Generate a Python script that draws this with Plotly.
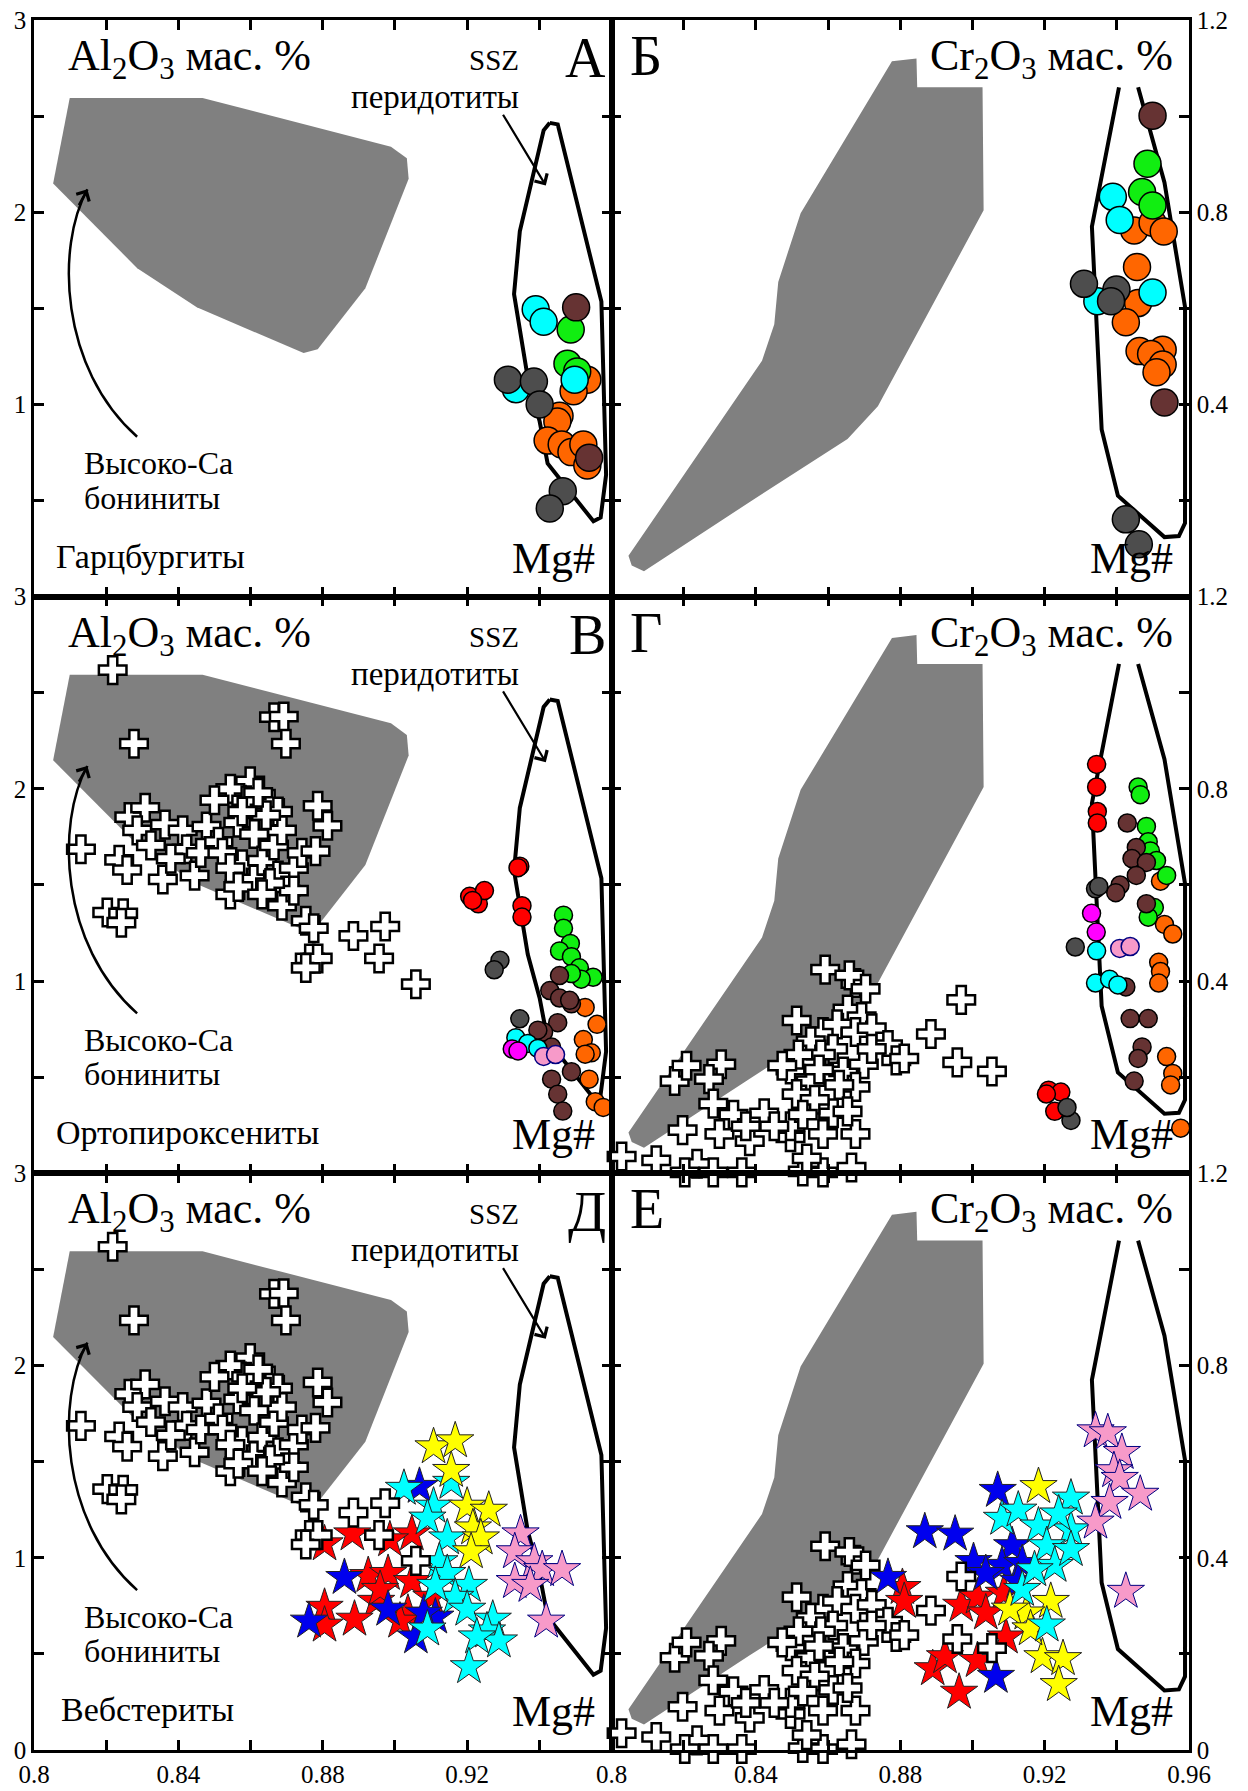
import plotly.graph_objects as go
from plotly.subplots import make_subplots

FONT = "Liberation Serif, DejaVu Serif, Times New Roman, serif"

# ---------------- axes ticks ----------------
mg_ticks = [0.80, 0.82, 0.84, 0.86, 0.88, 0.90, 0.92, 0.94, 0.96]
mg_labels_left = ["0.8", "", "0.84", "", "0.88", "", "0.92", "", ""]
mg_labels_right = ["0.8", "", "0.84", "", "0.88", "", "0.92", "", "0.96"]
al_ticks = [0, 0.5, 1, 1.5, 2, 2.5, 3]
al_labels = ["", "", "1", "", "2", "", "3"]
al_labels_bottom = ["0", "", "1", "", "2", "", "3"]
cr_ticks = [0, 0.2, 0.4, 0.6, 0.8, 1.0, 1.2]
cr_labels = ["", "", "0.4", "", "0.8", "", "1.2"]
cr_labels_bottom = ["0", "", "0.4", "", "0.8", "", "1.2"]

# ---------------- reference fields ----------------
bon_field_al_mg = [0.8099, 0.8467, 0.8989, 0.9033, 0.9038, 0.8918, 0.8786, 0.8747, 0.8451, 0.8286, 0.8053]
bon_field_al = [2.594, 2.594, 2.341, 2.281, 2.174, 1.604, 1.287, 1.267, 1.505, 1.709, 2.149]
ssz_al_mg = [0.9429, 0.9451, 0.9572, 0.9585, 0.9570, 0.9550, 0.9423, 0.9401, 0.9368, 0.9330, 0.9346, 0.9412, 0.9429]
ssz_al = [2.465, 2.457, 1.535, 0.634, 0.412, 0.392, 0.693, 0.911, 1.139, 1.574, 1.901, 2.426, 2.465]
bon_field_cr_mg = [0.8047, 0.8056, 0.8090, 0.8383, 0.8654, 0.8738, 0.9031, 0.9028, 0.8847, 0.8845, 0.8777, 0.8524, 0.8462, 0.8451, 0.8417]
bon_field_cr = [0.085, 0.065, 0.053, 0.197, 0.328, 0.396, 0.804, 1.060, 1.060, 1.120, 1.114, 0.798, 0.655, 0.567, 0.491]
ssz_cr_mg = [0.9406, 0.9331, 0.9358, 0.9403, 0.9532, 0.9572, 0.9589, 0.9589, 0.9532, 0.9459]
ssz_cr = [1.060, 0.770, 0.348, 0.210, 0.124, 0.126, 0.153, 0.603, 0.862, 1.060]

# ---------------- boninite pyroxenes (white crosses) ----------------
bpx_al_mg = [0.8218, 0.8277, 0.8665, 0.8692, 0.8698, 0.8599, 0.8544, 0.8588, 0.8786, 0.8813,
             0.8654, 0.8676, 0.8130, 0.8236, 0.8258, 0.8203, 0.8247, 0.8242, 0.8264, 0.8308,
             0.8286, 0.8324, 0.8363, 0.8357, 0.8412, 0.8423, 0.8379, 0.8445, 0.8478, 0.8511,
             0.8462, 0.8544, 0.8566, 0.8610, 0.8577, 0.8610, 0.8632, 0.8522, 0.8544, 0.8665,
             0.8676, 0.8687, 0.8698, 0.8687, 0.8720, 0.8742, 0.8780, 0.8720, 0.8753, 0.8775,
             0.8764, 0.8786, 0.8753, 0.8885, 0.8973, 0.8956, 0.9058, 0.8643, 0.8621, 0.8500,
             0.8577, 0.8654, 0.8566, 0.8632]
bpx_al = [2.618, 2.235, 2.373, 2.376, 2.235, 2.039, 2.000, 1.941, 1.912, 1.808,
          1.922, 1.882, 1.686, 1.631, 1.578, 1.357, 1.353, 1.304, 1.853, 1.902,
          1.784, 1.706, 1.814, 1.529, 1.784, 1.686, 1.637, 1.549, 1.804, 1.725,
          1.667, 1.451, 1.824, 1.765, 1.608, 1.529, 1.627, 1.667, 1.588, 1.706,
          1.549, 1.784, 1.471, 1.392, 1.588, 1.667, 1.676, 1.471, 1.314, 1.275,
          1.118, 1.118, 1.069, 1.235, 1.284, 1.118, 0.984, 1.863, 1.980, 1.941,
          1.882, 1.510, 1.490, 1.451]
bpx_cr_mg = [0.8592, 0.8676, 0.8659, 0.8704, 0.8969, 0.8654, 0.8693, 0.8513, 0.8885, 0.8586,
             0.8625, 0.8676, 0.8721, 0.8552, 0.8766, 0.8614, 0.8958, 0.9054, 0.8789, 0.8496,
             0.8642, 0.8699, 0.8552, 0.8175, 0.8208, 0.8304, 0.8270, 0.8513, 0.8676, 0.8282,
             0.8338, 0.8423, 0.8197, 0.8299, 0.8383, 0.8496, 0.8586, 0.8676, 0.8614, 0.8028,
             0.8124, 0.8237, 0.8203, 0.8282, 0.8361, 0.8530, 0.8586, 0.8665, 0.8541, 0.8496,
             0.8563, 0.8451, 0.8721, 0.8811, 0.8580, 0.8518, 0.8575, 0.8631, 0.8473, 0.8372,
             0.8530, 0.8654]
bpx_cr = [0.424, 0.396, 0.412, 0.384, 0.361, 0.341, 0.325, 0.318, 0.290, 0.294,
          0.310, 0.294, 0.302, 0.275, 0.267, 0.259, 0.231, 0.212, 0.235, 0.216,
          0.212, 0.227, 0.192, 0.192, 0.224, 0.227, 0.196, 0.165, 0.180, 0.145,
          0.122, 0.125, 0.090, 0.082, 0.067, 0.075, 0.082, 0.082, 0.125, 0.035,
          0.027, 0.020, 0.002, 0.002, 0.002, 0.004, 0.002, 0.012, 0.031, 0.098,
          0.153, 0.098, 0.259, 0.239, 0.247, 0.247, 0.216, 0.184, 0.224, 0.098,
          0.122, 0.129]

# ---------------- А: harzburgites, Al2O3 ----------------
hz_al_orange_mg = [0.9533, 0.9495, 0.9456, 0.9450, 0.9423, 0.9462, 0.9489, 0.9522, 0.9533]
hz_al_orange = [1.129, 1.069, 0.941, 0.911, 0.812, 0.792, 0.752, 0.792, 0.683]
hz_al_green_mg = [0.9487, 0.9478, 0.9505]
hz_al_green = [1.390, 1.212, 1.172]
hz_al_cyan_mg = [0.9390, 0.9412, 0.9335, 0.9498]
hz_al_cyan = [1.495, 1.430, 1.079, 1.129]
hz_al_gray_mg = [0.9313, 0.9385, 0.9401, 0.9465, 0.9429]
hz_al_gray = [1.129, 1.119, 1.000, 0.549, 0.459]
hz_al_brown_mg = [0.9502, 0.9538]
hz_al_brown = [1.505, 0.723]

# ---------------- Б: harzburgites, Cr2O3 ----------------
hz_cr_orange_mg = [0.9448, 0.9499, 0.9530, 0.9456, 0.9459, 0.9425, 0.9463, 0.9527, 0.9495, 0.9527, 0.9510]
hz_cr_orange = [0.762, 0.778, 0.760, 0.686, 0.611, 0.571, 0.511, 0.514, 0.505, 0.483, 0.467]
hz_cr_green_mg = [0.9485, 0.9470, 0.9499]
hz_cr_green = [0.901, 0.842, 0.814]
hz_cr_cyan_mg = [0.9389, 0.9408, 0.9499, 0.9346]
hz_cr_cyan = [0.832, 0.784, 0.633, 0.615]
hz_cr_gray_mg = [0.9309, 0.9399, 0.9384, 0.9425, 0.9461]
hz_cr_gray = [0.651, 0.639, 0.615, 0.161, 0.109]
hz_cr_brown_mg = [0.9499, 0.9532]
hz_cr_brown = [1.001, 0.404]

# ---------------- В: orthopyroxenites, Al2O3 ----------------
opx_al_orange_mg = [0.9527, 0.9560, 0.9522, 0.9544, 0.9527, 0.9538, 0.9555, 0.9577]
opx_al_orange = [0.863, 0.775, 0.696, 0.627, 0.620, 0.490, 0.373, 0.343]
opx_al_green_mg = [0.9467, 0.9467, 0.9486, 0.9456, 0.9489, 0.9511, 0.9549, 0.9516, 0.9489]
opx_al_green = [1.343, 1.275, 1.196, 1.157, 1.127, 1.069, 1.020, 1.010, 1.039]
opx_al_brown_mg = [0.9456, 0.9429, 0.9456, 0.9489, 0.9484, 0.9451, 0.9412, 0.9396, 0.9434, 0.9489, 0.9434, 0.9451, 0.9465]
opx_al_brown = [1.029, 0.951, 0.912, 0.882, 0.900, 0.784, 0.735, 0.745, 0.657, 0.529, 0.490, 0.412, 0.324]
opx_al_red_mg = [0.9346, 0.9341, 0.9207, 0.9231, 0.9248, 0.9215, 0.9352, 0.9352]
opx_al_red = [1.598, 1.590, 1.441, 1.402, 1.471, 1.420, 1.392, 1.333]
opx_al_gray_mg = [0.9291, 0.9275, 0.9346]
opx_al_gray = [1.108, 1.059, 0.804]
opx_al_cyan_mg = [0.9335, 0.9368, 0.9396]
opx_al_cyan = [0.706, 0.676, 0.650]
opx_al_magenta_mg = [0.9325, 0.9341]
opx_al_magenta = [0.647, 0.637]
opx_al_pink_mg = [0.9412, 0.9445]
opx_al_pink = [0.608, 0.618]

# ---------------- Г: orthopyroxenites, Cr2O3 ----------------
opx_cr_orange_mg = [0.9521, 0.9532, 0.9555, 0.9516, 0.9521, 0.9516, 0.9538, 0.9555, 0.9549, 0.9577]
opx_cr_orange = [0.608, 0.518, 0.498, 0.439, 0.420, 0.396, 0.243, 0.208, 0.184, 0.094]
opx_cr_green_mg = [0.9459, 0.9465, 0.9482, 0.9487, 0.9493, 0.9510, 0.9538, 0.9504, 0.9487]
opx_cr_green = [0.804, 0.788, 0.722, 0.690, 0.671, 0.651, 0.620, 0.553, 0.533]
opx_cr_brown_mg = [0.9429, 0.9454, 0.9442, 0.9482, 0.9454, 0.9409, 0.9397, 0.9482, 0.9425, 0.9437, 0.9487, 0.9470, 0.9459, 0.9448]
opx_cr_brown = [0.729, 0.678, 0.655, 0.647, 0.620, 0.600, 0.584, 0.561, 0.388, 0.322, 0.322, 0.263, 0.239, 0.192]
opx_cr_red_mg = [0.9344, 0.9344, 0.9346, 0.9346, 0.9211, 0.9245, 0.9228, 0.9205]
opx_cr_red = [0.851, 0.804, 0.753, 0.729, 0.173, 0.169, 0.129, 0.165]
opx_cr_gray_mg = [0.9273, 0.9262, 0.9285, 0.9341, 0.9350]
opx_cr_gray = [0.110, 0.137, 0.471, 0.592, 0.597]
opx_cr_magenta_mg = [0.9330, 0.9343]
opx_cr_magenta = [0.541, 0.502]
opx_cr_cyan_mg = [0.9344, 0.9341, 0.9380, 0.9403]
opx_cr_cyan = [0.463, 0.396, 0.404, 0.392]
opx_cr_pink_mg = [0.9408, 0.9437]
opx_cr_pink = [0.468, 0.472]

# ---------------- Д: websterites, Al2O3 ----------------
web_al_red_mg = [0.8805, 0.8882, 0.9047, 0.8986, 0.8926, 0.8981, 0.9047, 0.9101, 0.9036, 0.8948, 0.8805, 0.8805, 0.8888, 0.8959, 0.9014]
web_al_red = [1.072, 1.124, 1.124, 1.093, 0.907, 0.918, 0.876, 0.794, 0.711, 0.773, 0.742, 0.649, 0.680, 0.835, 0.670]
web_al_blue_mg = [0.9068, 0.8860, 0.8762, 0.9112, 0.9058, 0.9080, 0.8981]
web_al_blue = [1.371, 0.897, 0.670, 0.691, 0.588, 0.711, 0.732]
web_al_cyan_mg = [0.9025, 0.9156, 0.9107, 0.9090, 0.9145, 0.9123, 0.9145, 0.9205, 0.9167, 0.9200, 0.9271, 0.9255, 0.9288, 0.9227, 0.9205, 0.9112, 0.9090]
web_al_cyan = [1.361, 1.392, 1.268, 1.206, 1.103, 0.979, 0.918, 0.856, 0.794, 0.732, 0.680, 0.619, 0.567, 0.588, 0.433, 0.856, 0.629]
web_al_yellow_mg = [0.9107, 0.9167, 0.9156, 0.9200, 0.9260, 0.9216, 0.9238, 0.9211]
web_al_yellow = [1.577, 1.608, 1.454, 1.268, 1.247, 1.155, 1.103, 1.031]
web_al_pink_mg = [0.9348, 0.9332, 0.9386, 0.9408, 0.9463, 0.9332, 0.9375, 0.9419]
web_al_pink = [1.124, 1.031, 0.979, 0.938, 0.938, 0.876, 0.856, 0.670]

# ---------------- Е: websterites, Cr2O3 ----------------
web_cr_red_mg = [0.8806, 0.8811, 0.8969, 0.9014, 0.9087, 0.9037, 0.8890, 0.8924, 0.8963, 0.9093, 0.9014]
web_cr_red = [0.338, 0.309, 0.301, 0.318, 0.326, 0.285, 0.169, 0.194, 0.120, 0.235, 0.186]
web_cr_blue_mg = [0.9070, 0.8868, 0.8952, 0.9003, 0.9110, 0.9082, 0.9138, 0.9037, 0.9127, 0.8766, 0.9065]
web_cr_blue = [0.540, 0.454, 0.449, 0.392, 0.425, 0.384, 0.388, 0.367, 0.351, 0.359, 0.153]
web_cr_yellow_mg = [0.9183, 0.9217, 0.9149, 0.9104, 0.9194, 0.9251, 0.9239, 0.9161]
web_cr_yellow = [0.548, 0.309, 0.285, 0.293, 0.194, 0.190, 0.136, 0.252]
web_cr_cyan_mg = [0.9273, 0.9082, 0.9127, 0.9183, 0.9273, 0.9206, 0.9228, 0.9138, 0.9206, 0.9273, 0.9172, 0.9239]
web_cr_cyan = [0.524, 0.482, 0.499, 0.466, 0.458, 0.425, 0.384, 0.334, 0.260, 0.417, 0.375, 0.491]
web_cr_pink_mg = [0.9341, 0.9375, 0.9414, 0.9392, 0.9408, 0.9465, 0.9380, 0.9341, 0.9425]
web_cr_pink = [0.664, 0.660, 0.619, 0.581, 0.565, 0.532, 0.515, 0.474, 0.330]

# ---------------- colours ----------------
C_ORANGE = "#ff6600"
C_GREEN = "#11ee11"
C_CYAN = "#00ffff"
C_GRAY = "#4d4d4d"
C_BROWN = "#663333"
C_RED = "#ff0000"
C_MAGENTA = "#ff00ff"
C_PINK = "#f79ac9"
C_BLUE = "#0000ee"
C_YELLOW = "#ffff00"
C_FIELD = "#808080"

fig = make_subplots(rows=3, cols=2, horizontal_spacing=0, vertical_spacing=0)


def field(xs, ys, r, c):
    fig.add_trace(go.Scatter(x=xs, y=ys, mode="lines", fill="toself", fillcolor=C_FIELD,
                             line=dict(width=0, color=C_FIELD), hoverinfo="skip", showlegend=False),
                  row=r, col=c)


def outline(xs, ys, r, c):
    fig.add_trace(go.Scatter(x=xs, y=ys, mode="lines", line=dict(width=4, color="black"),
                             hoverinfo="skip", showlegend=False), row=r, col=c)


def pts(xs, ys, r, c, color, symbol="circle", size=25, lc="black", lw=1.5):
    fig.add_trace(go.Scatter(x=xs, y=ys, mode="markers", cliponaxis=False,
                             marker=dict(symbol=symbol, size=size, color=color,
                                         line=dict(color=lc, width=lw)),
                             hoverinfo="skip", showlegend=False), row=r, col=c)


for r in (1, 2, 3):
    field(bon_field_al_mg, bon_field_al, r, 1)
    outline(ssz_al_mg, ssz_al, r, 1)
    field(bon_field_cr_mg, bon_field_cr, r, 2)
    outline(ssz_cr_mg, ssz_cr, r, 2)

# А
S1 = 27
pts(hz_al_orange_mg, hz_al_orange, 1, 1, C_ORANGE, size=S1)
pts(hz_al_green_mg, hz_al_green, 1, 1, C_GREEN, size=S1)
pts(hz_al_cyan_mg, hz_al_cyan, 1, 1, C_CYAN, size=S1)
pts(hz_al_gray_mg, hz_al_gray, 1, 1, C_GRAY, size=S1)
pts(hz_al_brown_mg, hz_al_brown, 1, 1, C_BROWN, size=S1)
# Б
pts(hz_cr_orange_mg, hz_cr_orange, 1, 2, C_ORANGE, size=S1)
pts(hz_cr_green_mg, hz_cr_green, 1, 2, C_GREEN, size=S1)
pts(hz_cr_cyan_mg, hz_cr_cyan, 1, 2, C_CYAN, size=S1)
pts(hz_cr_gray_mg, hz_cr_gray, 1, 2, C_GRAY, size=S1)
pts(hz_cr_brown_mg, hz_cr_brown, 1, 2, C_BROWN, size=S1)

# В
S2 = 18
CROSS = 23
pts(bpx_al_mg, bpx_al, 2, 1, "white", symbol="cross", size=CROSS, lw=2.5)
pts(opx_al_orange_mg, opx_al_orange, 2, 1, C_ORANGE, size=S2)
pts(opx_al_green_mg, opx_al_green, 2, 1, C_GREEN, size=S2)
pts(opx_al_brown_mg, opx_al_brown, 2, 1, C_BROWN, size=S2)
pts(opx_al_red_mg, opx_al_red, 2, 1, C_RED, size=S2)
pts(opx_al_gray_mg, opx_al_gray, 2, 1, C_GRAY, size=S2)
pts(opx_al_cyan_mg, opx_al_cyan, 2, 1, C_CYAN, size=S2)
pts(opx_al_magenta_mg, opx_al_magenta, 2, 1, C_MAGENTA, size=S2)
pts(opx_al_pink_mg, opx_al_pink, 2, 1, C_PINK, size=S2, lc="#000080")
# Г
pts(bpx_cr_mg, bpx_cr, 2, 2, "white", symbol="cross", size=CROSS, lw=2.5)
pts(opx_cr_orange_mg, opx_cr_orange, 2, 2, C_ORANGE, size=S2)
pts(opx_cr_green_mg, opx_cr_green, 2, 2, C_GREEN, size=S2)
pts(opx_cr_brown_mg, opx_cr_brown, 2, 2, C_BROWN, size=S2)
pts(opx_cr_red_mg, opx_cr_red, 2, 2, C_RED, size=S2)
pts(opx_cr_gray_mg, opx_cr_gray, 2, 2, C_GRAY, size=S2)
pts(opx_cr_magenta_mg, opx_cr_magenta, 2, 2, C_MAGENTA, size=S2)
pts(opx_cr_cyan_mg, opx_cr_cyan, 2, 2, C_CYAN, size=S2)
pts(opx_cr_pink_mg, opx_cr_pink, 2, 2, C_PINK, size=S2, lc="#000080")

# Д
ST = 28
pts(web_al_red_mg, web_al_red, 3, 1, C_RED, symbol="star", size=ST, lc="#222222", lw=1)
pts(web_al_blue_mg, web_al_blue, 3, 1, C_BLUE, symbol="star", size=ST, lc="#222222", lw=1)
pts(web_al_cyan_mg, web_al_cyan, 3, 1, C_CYAN, symbol="star", size=ST, lc="#222222", lw=1)
pts(web_al_yellow_mg, web_al_yellow, 3, 1, C_YELLOW, symbol="star", size=ST, lc="#222222", lw=1)
pts(web_al_pink_mg, web_al_pink, 3, 1, C_PINK, symbol="star", size=ST, lc="#000080", lw=1)
pts(bpx_al_mg, bpx_al, 3, 1, "white", symbol="cross", size=CROSS, lw=2.5)
# Е
pts(web_cr_red_mg, web_cr_red, 3, 2, C_RED, symbol="star", size=ST, lc="#222222", lw=1)
pts(web_cr_blue_mg, web_cr_blue, 3, 2, C_BLUE, symbol="star", size=ST, lc="#222222", lw=1)
pts(web_cr_yellow_mg, web_cr_yellow, 3, 2, C_YELLOW, symbol="star", size=ST, lc="#222222", lw=1)
pts(web_cr_cyan_mg, web_cr_cyan, 3, 2, C_CYAN, symbol="star", size=ST, lc="#222222", lw=1)
pts(web_cr_pink_mg, web_cr_pink, 3, 2, C_PINK, symbol="star", size=ST, lc="#000080", lw=1)
pts(bpx_cr_mg, bpx_cr, 3, 2, "white", symbol="cross", size=CROSS, lw=2.5)

# ---------------- axes ----------------
axis_common = dict(showline=True, linewidth=2.5, linecolor="black", mirror="allticks",
                   ticks="inside", ticklen=10, tickwidth=2.5, tickcolor="black",
                   showgrid=False, zeroline=False, automargin=False,
                   tickfont=dict(family=FONT, size=25, color="black"))
for r in (1, 2, 3):
    for c in (1, 2):
        if r == 3:
            tt = mg_labels_left if c == 1 else mg_labels_right
        else:
            tt = [""] * len(mg_ticks)
        fig.update_xaxes(range=[0.8, 0.96], tickmode="array", tickvals=mg_ticks, ticktext=tt,
                         row=r, col=c, **axis_common)
        if c == 1:
            fig.update_yaxes(range=[0, 3], tickmode="array", tickvals=al_ticks,
                             ticktext=al_labels_bottom if r == 3 else al_labels,
                             row=r, col=c, **axis_common)
        else:
            fig.update_yaxes(range=[0, 1.2], tickmode="array", tickvals=cr_ticks,
                             ticktext=cr_labels_bottom if r == 3 else cr_labels, side="right",
                             row=r, col=c, **axis_common)

# ---------------- texts ----------------
letters_left = ["А", "В", "Д"]
letters_right = ["Б", "Г", "Е"]
rock_names = ["Гарцбургиты", "Ортопироксениты", "Вебстериты"]

# arrow / curve geometry (data coordinates of left panels)
ssz_arrow_tail = (0.9297, 2.515)
ssz_arrow_head = (0.9418, 2.139)
bon_curve = [(0.82857, 0.832), (0.80714, 1.188), (0.80604, 1.822), (0.8148, 2.119)]

annotations = []


def txt(xref, yref, x, y, text, size, xanchor, yanchor="middle"):
    annotations.append(dict(xref=xref, yref=yref, x=x, y=y, text=text, showarrow=False,
                            xanchor=xanchor, yanchor=yanchor,
                            font=dict(family=FONT, size=size, color="black")))


shapes = []
for r in (1, 2, 3):
    lx = "x" if r == 1 else "x%d" % (2 * r - 1)
    ly = "y" if r == 1 else "y%d" % (2 * r - 1)
    rx = "x%d" % (2 * r)
    ry = "y%d" % (2 * r)
    # left panel
    txt(lx, ly, 0.8088, 2.80, "Al<sub>2</sub>O<sub>3</sub> мас. %", 44, "left")
    txt(lx, ly, 0.9590, 2.80, letters_left[r - 1], 56, "right")
    txt(lx, ly, 0.9348, 2.79, "SSZ", 29, "right")
    txt(lx, ly, 0.9348, 2.60, "перидотиты", 33, "right")
    txt(lx, ly, 0.8132, 0.693, "Высоко-Са", 32, "left")
    txt(lx, ly, 0.8132, 0.515, "бониниты", 32, "left")
    txt(lx, ly, 0.8055 if r < 3 else 0.8069, 0.21, rock_names[r - 1], 34, "left")
    txt(lx, ly, 0.9560, 0.20, "Mg#", 44, "right")
    annotations.append(dict(xref=lx, yref=ly, axref=lx, ayref=ly,
                            x=ssz_arrow_head[0], y=ssz_arrow_head[1],
                            ax=ssz_arrow_tail[0], ay=ssz_arrow_tail[1], text="",
                            showarrow=True, arrowhead=4, arrowsize=1.3, arrowwidth=2.2,
                            arrowcolor="black"))
    p0, p1, p2, p3 = bon_curve
    shapes.append(dict(type="path", xref=lx, yref=ly,
                       path="M %f,%f C %f,%f %f,%f %f,%f" % (p0[0], p0[1], p1[0], p1[1],
                                                             p2[0], p2[1], p3[0], p3[1]),
                       line=dict(color="black", width=2.5)))
    tx = p3[0] - 0.3 * (p3[0] - p2[0])
    ty = p3[1] - 0.3 * (p3[1] - p2[1])
    annotations.append(dict(xref=lx, yref=ly, axref=lx, ayref=ly, x=p3[0], y=p3[1],
                            ax=tx, ay=ty, text="", showarrow=True, arrowhead=4,
                            arrowsize=1.3, arrowwidth=2.2, arrowcolor="black"))
    # right panel
    txt(rx, ry, 0.8047, 1.125, letters_right[r - 1], 56, "left")
    txt(rx, ry, 0.9560, 1.12, "Cr<sub>2</sub>O<sub>3</sub> мас. %", 44, "right")
    txt(rx, ry, 0.9560, 0.08, "Mg#", 44, "right")

fig.update_layout(width=1248, height=1791, margin=dict(l=34, r=59, t=20, b=41),
                  paper_bgcolor="white", plot_bgcolor="white", showlegend=False,
                  annotations=annotations, shapes=shapes,
                  font=dict(family=FONT, color="black"))

fig.write_html("out.html", config={"displayModeBar": False},
               post_script="document.body.style.margin='0px';document.body.style.overflow='hidden';")
